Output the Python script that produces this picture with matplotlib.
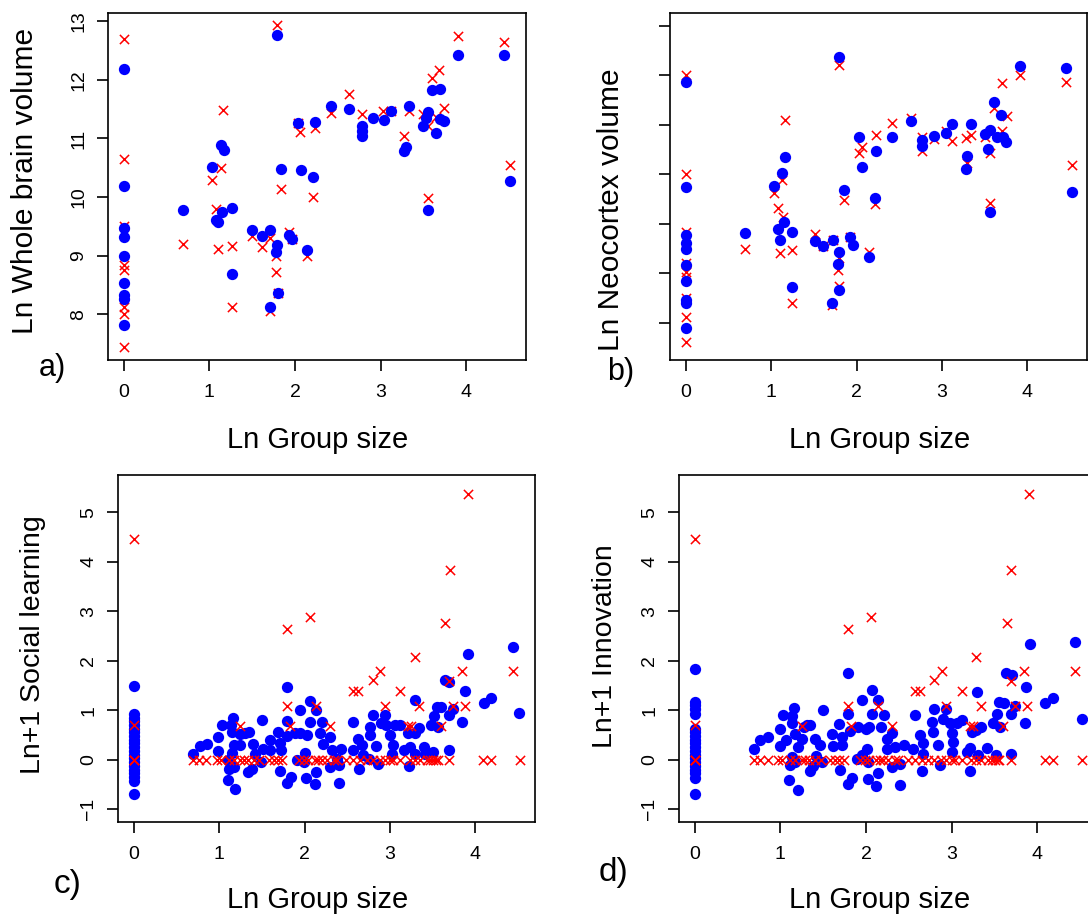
#Four panel scatter: observed (blue dots) vs imputed (red crosses) against Ln group size
import numpy as np
import matplotlib as mpl
import matplotlib.pyplot as plt

mpl.rcParams['font.family'] = ['Liberation Sans', 'DejaVu Sans']
mpl.rcParams['xtick.labelsize'] = 14
mpl.rcParams['ytick.labelsize'] = 14

W, H = 1088, 917

#%% data
# a) Ln whole brain volume
a_blue_x = [0, 0, 0, 0, 0, 0, 0, 0, 0,
            0.69, 1.03, 1.13, 1.17, 1.08, 1.10, 1.15, 1.26, 1.26,
            1.50, 1.61, 1.71, 1.79, 1.84, 1.79, 1.78, 1.80, 1.71,
            1.93, 1.96, 2.07, 2.21, 2.14, 2.03, 2.23, 2.42, 2.63,
            2.78, 2.78, 2.78, 2.91, 3.04, 3.12, 3.33, 3.30, 3.27,
            3.55, 3.56, 3.53, 3.50, 3.65, 3.60, 3.69, 3.70, 3.74,
            3.91, 4.44, 4.51]
a_blue_y = [12.19, 10.18, 9.47, 9.31, 8.99, 8.53, 8.33, 8.26, 7.82,
            9.78, 10.51, 10.88, 10.81, 9.61, 9.57, 9.74, 9.81, 8.69,
            9.43, 9.34, 9.43, 12.76, 10.48, 9.18, 9.06, 8.36, 8.12,
            9.36, 9.28, 10.47, 10.35, 9.09, 11.26, 11.28, 11.56, 11.50,
            11.21, 11.12, 11.04, 11.35, 11.32, 11.46, 11.56, 10.86, 10.78,
            9.78, 11.45, 11.35, 11.22, 11.09, 11.83, 11.84, 11.34, 11.29,
            12.43, 12.42, 10.27]
a_red_x = [0, 0, 0, 0, 0, 0, 0, 0,
           0.69, 1.03, 1.13, 1.16, 1.08, 1.10, 1.26, 1.26,
           1.50, 1.61, 1.71, 1.79, 1.84, 1.78, 1.78, 1.80, 1.71,
           1.93, 1.96, 2.21, 2.14, 2.03, 2.06, 2.23, 2.42, 2.63,
           2.78, 3.03, 3.12, 3.33, 3.27, 3.55, 3.50, 3.56, 3.65,
           3.60, 3.68, 3.74, 3.91, 4.44, 4.51]
a_red_y = [12.69, 10.65, 9.50, 8.84, 8.76, 8.13, 8.00, 7.45,
           9.20, 10.29, 10.49, 11.49, 9.79, 9.12, 9.17, 8.13,
           9.33, 9.14, 9.30, 12.93, 10.14, 8.99, 8.72, 8.37, 8.05,
           9.41, 9.28, 10.00, 8.99, 11.26, 11.11, 11.18, 11.43, 11.75,
           11.41, 11.46, 11.46, 11.46, 11.05, 9.98, 11.41, 11.21, 11.37,
           12.03, 12.16, 11.52, 12.75, 12.64, 10.54]

# b) Ln neocortex volume (tick labels not shown in the original)
b_blue_x = [0, 0, 0, 0, 0, 0, 0, 0, 0, 0,
            0.695, 1.03, 1.08, 1.10, 1.13, 1.16, 1.15, 1.25, 1.25,
            1.51, 1.61, 1.72, 1.80, 1.85, 1.80, 1.78, 1.80, 1.71,
            1.92, 1.96, 2.03, 2.07, 2.15, 2.23, 2.22, 2.42, 2.64,
            2.77, 2.77, 2.91, 3.05, 3.12, 3.30, 3.28, 3.34, 3.50,
            3.56, 3.54, 3.56, 3.61, 3.69, 3.65, 3.72, 3.75, 3.92,
            4.45, 4.52]
b_blue_y = [10.86, 8.74, 7.77, 7.60, 7.48, 7.17, 6.83, 6.46, 6.39, 5.88,
            7.81, 8.76, 7.90, 7.67, 9.02, 9.34, 8.04, 7.84, 6.71,
            7.65, 7.54, 7.67, 11.36, 8.67, 7.42, 7.18, 6.65, 6.39,
            7.72, 7.56, 9.76, 9.15, 7.33, 9.46, 8.51, 9.74, 10.08,
            9.69, 9.57, 9.77, 9.83, 10.01, 9.36, 9.10, 10.01, 9.82,
            9.90, 9.51, 8.24, 10.45, 10.20, 9.74, 9.76, 9.64, 11.18,
            11.14, 8.63]
b_red_x = [0, 0, 0, 0, 0, 0, 0, 0, 0,
           0.695, 1.03, 1.08, 1.10, 1.13, 1.16, 1.14, 1.25, 1.25,
           1.51, 1.61, 1.72, 1.80, 1.85, 1.80, 1.78, 1.80, 1.71,
           1.92, 2.03, 2.07, 2.15, 2.23, 2.22, 2.42, 2.64,
           2.77, 2.77, 2.91, 3.05, 3.12, 3.30, 3.28, 3.34, 3.50,
           3.56, 3.56, 3.61, 3.76, 3.71, 3.70, 3.92, 4.45, 4.52]
b_red_y = [11.01, 9.01, 7.83, 7.20, 7.03, 6.93, 6.49, 6.11, 5.61,
           7.48, 8.61, 8.31, 7.40, 8.88, 10.10, 8.14, 7.47, 6.40,
           7.79, 7.54, 7.67, 11.21, 8.48, 7.30, 7.06, 6.73, 6.36,
           7.72, 9.42, 9.55, 7.43, 9.80, 8.40, 10.04, 10.13,
           9.46, 9.75, 9.71, 9.88, 9.66, 9.22, 9.73, 9.80, 9.76,
           9.42, 8.41, 10.33, 10.17, 9.88, 10.85, 11.01, 10.87, 9.19]

# c) Ln+1 social learning
c_blue_x = [0]*21 + [
    0.69, 0.77, 0.86, 0.99, 0.99, 1.03, 1.10, 1.10, 1.11, 1.14, 1.16, 1.15, 1.17,
    1.15, 1.19, 1.17, 1.25, 1.25, 1.30, 1.35, 1.34, 1.39, 1.40, 1.42, 1.49, 1.50,
    1.51, 1.60, 1.60, 1.69, 1.71, 1.72, 1.71, 1.79, 1.79, 1.79, 1.79, 1.84, 1.89,
    1.91, 1.95, 1.95, 1.99, 2.01, 2.02, 2.03, 2.06, 2.06, 2.12, 2.14, 2.14, 2.18,
    2.21, 2.22, 2.30, 2.30, 2.32, 2.38, 2.40, 2.40, 2.43, 2.57, 2.57, 2.63, 2.64,
    2.67, 2.69, 2.76, 2.77, 2.77, 2.80, 2.84, 2.86, 2.90, 2.94, 2.96, 3.00, 3.02,
    3.04, 3.06, 3.12, 3.17, 3.21, 3.22, 3.23, 3.29, 3.29, 3.30, 3.34, 3.40, 3.41,
    3.48, 3.51, 3.52, 3.55, 3.56, 3.60, 3.64, 3.69, 3.69, 3.69, 3.74, 3.85, 3.88,
    3.91, 4.10, 4.18, 4.44, 4.51]
c_blue_y = [1.48, 0.92, 0.85, 0.78, 0.70, 0.62, 0.55, 0.48, 0.40, 0.33, 0.26,
            0.18, 0.10, 0.03, -0.05, -0.12, -0.20, -0.28, -0.36, -0.43, -0.69,
    0.11, 0.27, 0.32, 0.45, 0.18, 0.69, -0.01, -0.42, -0.18, 0.69, 0.85, 0.56, 0.29,
    0.13, -0.59, -0.15, 0.29, 0.51, 0.54, 0.56, -0.25, -0.18, 0.32, 0.12, -0.05, 0.81,
    0.22, 0.39, 0.20, 0.56, 0.34, 0.19, -0.22, 1.46, 0.78, 0.47, -0.47, -0.36, 0.53,
    -0.01, 1.00, 0.53, -0.05, 0.13, -0.38, 0.49, 1.19, 0.76, -0.49, -0.25, 1.01, 0.54,
    0.76, 0.32, 0.46, -0.15, 0.19, 0.02, -0.47, -0.11, 0.22, 0.76, 0.19, 0.42, -0.18,
    0.29, 0.09, 0.02, 0.66, 0.49, 0.90, 0.27, -0.09, 0.73, 0.90, 0.69, 0.49, 0.12,
    0.29, 0.69, 0.69, 0.19, 0.53, -0.13, 0.26, 1.21, 0.53, 0.12, 0.63, 0.26, 0.12,
    0.69, 0.16, 0.88, 1.07, 0.66, 1.07, 1.60, 1.57, 0.90, 0.20, 1.03, 0.76, 1.39,
    2.13, 1.15, 1.25, 2.28, 0.95]

# d) Ln+1 innovation
d_blue_x = [0]*20 + [
    0.69, 0.76, 0.86, 0.99, 0.99, 1.03, 1.07, 1.10, 1.11, 1.13, 1.14, 1.13, 1.16,
    1.17, 1.17, 1.20, 1.21, 1.25, 1.27, 1.31, 1.35, 1.35, 1.38, 1.40, 1.42, 1.46,
    1.49, 1.50, 1.60, 1.62, 1.69, 1.70, 1.72, 1.72, 1.79, 1.79, 1.79, 1.84, 1.81,
    1.91, 1.90, 1.95, 1.95, 2.00, 2.01, 2.02, 2.02, 2.03, 2.07, 2.07, 2.12, 2.14,
    2.14, 2.18, 2.21, 2.24, 2.25, 2.30, 2.30, 2.34, 2.40, 2.40, 2.44, 2.55, 2.57,
    2.63, 2.65, 2.67, 2.67, 2.77, 2.78, 2.80, 2.84, 2.87, 2.90, 2.94, 2.98, 3.00,
    3.02, 3.00, 3.06, 3.12, 3.18, 3.22, 3.22, 3.24, 3.29, 3.30, 3.31, 3.34, 3.41,
    3.49, 3.52, 3.53, 3.55, 3.57, 3.61, 3.64, 3.70, 3.69, 3.71, 3.74, 3.86, 3.87,
    3.92, 4.09, 4.18, 4.44, 4.52]
d_blue_y = [1.83, 1.17, 1.10, 1.02, 0.92, 0.62, 0.55, 0.48, 0.40, 0.33, 0.26,
            0.18, 0.10, 0.03, -0.05, -0.12, -0.20, -0.28, -0.38, -0.69,
    0.22, 0.39, 0.46, 0.27, 0.61, 0.90, 0.39, -0.42, -0.11, 0.05, 0.88, 0.73, 1.05,
    0.51, -0.05, -0.61, 0.26, 0.42, 0.66, 0.69, 0.69, -0.23, -0.13, 0.42, 0.07, 0.29,
    -0.05, 1.00, 0.51, 0.27, 0.71, -0.20, 0.45, 0.29, 1.74, 0.93, -0.50, -0.38, 0.58,
    0.66, 0.02, 1.20, 0.09, 0.61, 0.22, -0.40, -0.05, 0.66, 1.40, 0.92, -0.54, -0.28,
    1.21, 0.66, 0.90, 0.42, 0.22, 0.53, -0.15, 0.26, -0.52, -0.09, 0.29, 0.22, 0.90,
    0.49, -0.22, 0.34, 0.12, 0.76, 0.56, 1.03, 0.29, -0.11, 0.83, 1.03, 0.73, 0.53,
    0.36, 0.16, 0.73, 0.80, 0.16, -0.22, 0.24, 0.56, 0.59, 1.36, 0.09, 0.66, 0.24,
    0.73, 0.09, 0.93, 1.17, 0.66, 1.15, 1.75, 0.12, 0.93, 1.71, 1.08, 0.75, 1.47,
    2.33, 1.15, 1.25, 2.38, 0.82]

# red crosses for c) and d): same imputed values in both panels
cd_red_zero_x = [0, 0, 0, 0.69, 0.76, 0.85, 0.97, 1.02, 1.11, 1.17, 1.25, 1.29, 1.34,
                 1.41, 1.47, 1.58, 1.64, 1.69, 1.74, 1.93, 1.99, 2.04, 2.12, 2.16,
                 2.20, 2.26, 2.34, 2.38, 2.49, 2.57, 2.65, 2.73, 2.80, 2.88, 2.94,
                 3.00, 3.04, 3.12, 3.23, 3.29, 3.35, 3.43, 3.47, 3.51, 3.54, 3.56,
                 3.69, 4.09, 4.19, 4.52]
cd_red_x = [0, 0, 1.79, 2.06, 3.91, 3.70, 3.65, 3.29, 2.89, 2.80, 3.85, 4.44,
            2.57, 2.63, 3.12, 1.79, 2.14, 2.94, 3.34, 3.88, 3.74, 3.69,
            1.25, 1.83, 2.30, 3.21, 3.25, 3.60]
cd_red_y = [4.45, 0.70, 2.63, 2.89, 5.37, 3.83, 2.76, 2.08, 1.79, 1.60, 1.79, 1.79,
            1.39, 1.39, 1.39, 1.09, 1.09, 1.09, 1.09, 1.09, 1.09, 1.59,
            0.68, 0.68, 0.68, 0.68, 0.68, 0.68]

#%% figure
fig = plt.figure(figsize=(W/100, H/100), dpi=100)

def px_axes(l, t, r, b):
    return fig.add_axes([l/W, 1 - b/H, (r - l)/W, (b - t)/H])

def style(ax, ylim, yticks, show_ylab=True):
    ax.set_xlim(-0.185, 4.70)
    ax.set_ylim(*ylim)
    ax.set_xticks([0, 1, 2, 3, 4])
    ax.set_yticks(yticks)
    ax.tick_params(direction='out', length=8, width=1.2)
    ax.tick_params(axis='x', pad=9)
    ax.tick_params(axis='y', pad=7)
    for sp in ax.spines.values():
        sp.set_linewidth(1.2)
    if show_ylab:
        for lbl in ax.get_yticklabels():
            lbl.set_rotation(90)
            lbl.set_va('center')
            lbl.set_fontsize(14)
    else:
        ax.tick_params(axis='y', labelleft=False)
    for lbl in ax.get_xticklabels():
        lbl.set_fontsize(14)

blue_kw = dict(s=66, c='#0000ff', marker='o', linewidths=0)
red_kw = dict(s=44, c='#ff0000', marker='x', linewidths=1.1)

ax_a = px_axes(108, 13, 526, 360)
ax_a.scatter(a_red_x, a_red_y, zorder=2, **red_kw)
ax_a.scatter(a_blue_x, a_blue_y, zorder=3, **blue_kw)
style(ax_a, (7.22, 13.14), [8, 9, 10, 11, 12, 13])

ax_b = px_axes(670, 13, 1087, 360)
ax_b.scatter(b_red_x, b_red_y, zorder=2, **red_kw)
ax_b.scatter(b_blue_x, b_blue_y, zorder=3, **blue_kw)
style(ax_b, (5.243, 12.256), [6, 7, 8, 9, 10, 11, 12], show_ylab=False)

ax_c = px_axes(118, 475, 535, 822)
ax_c.scatter(c_blue_x, c_blue_y, zorder=2, **blue_kw)
ax_c.scatter(cd_red_zero_x, [0]*len(cd_red_zero_x), zorder=3, **red_kw)
ax_c.scatter(cd_red_x, cd_red_y, zorder=3, **red_kw)
style(ax_c, (-1.26, 5.75), [-1, 0, 1, 2, 3, 4, 5])

ax_d = px_axes(679, 475, 1097, 822)
ax_d.scatter(d_blue_x, d_blue_y, zorder=2, **blue_kw)
ax_d.scatter(cd_red_zero_x, [0]*len(cd_red_zero_x), zorder=3, **red_kw)
ax_d.scatter(cd_red_x, cd_red_y, zorder=3, **red_kw)
style(ax_d, (-1.26, 5.75), [-1, 0, 1, 2, 3, 4, 5])

def ftext(x, y, s, size=21, **kw):
    fig.text(x/W, 1 - y/H, s, ha='center', va='center', fontsize=size, **kw)

ftext(25, 181, 'Ln Whole brain volume', size=21.5, rotation=90)
ftext(611, 210, 'Ln Neocortex volume', size=21.5, rotation=90)
ftext(33, 645, 'Ln+1 Social learning', size=20.5, rotation=90)
ftext(605, 646, 'Ln+1 Innovation', size=20.5, rotation=90)
for xx, yy in [(318, 440), (880, 440), (318, 900), (880, 900)]:
    ftext(xx, yy, 'Ln Group size')
ftext(52, 368, 'a)', size=22)
ftext(621, 372, 'b)', size=22)
ftext(68, 884, 'c)', size=24)
ftext(614, 873, 'd)', size=24)

fig.savefig('out.png', dpi=100)
